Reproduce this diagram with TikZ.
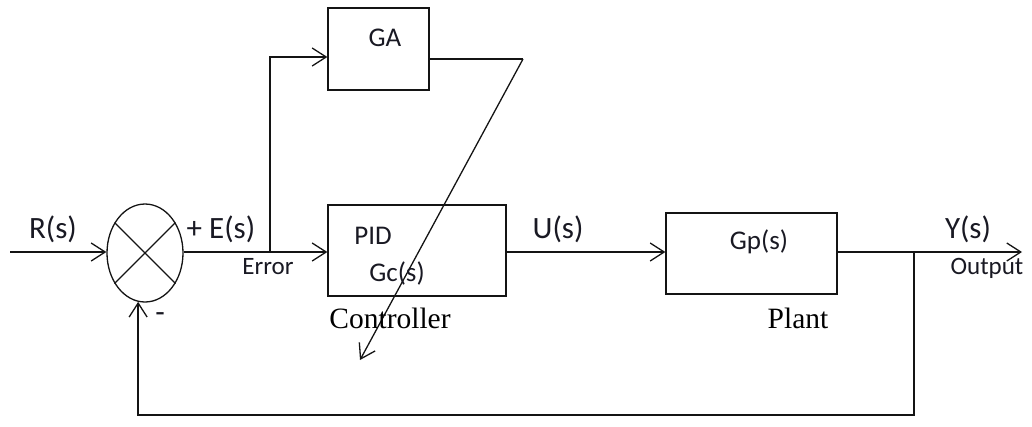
\documentclass[tikz,border=0pt]{standalone}
\usepackage{fontspec}
\setmainfont{Carlito}
\newfontfamily\tnrfont{Liberation Serif}
\usepackage{tikz}
\usetikzlibrary{arrows.meta,positioning,calc,shapes.geometric}
\definecolor{cdedge}{RGB}{20,20,20}
\definecolor{cdink}{RGB}{25,25,35}
\tikzset{
  blk/.style={
    draw=cdedge, line width=1.3pt, inner sep=0pt
  },
  sumj/.style={
    ellipse, draw=cdedge, line width=1.3pt, inner sep=0pt,
    minimum width=76pt, minimum height=98pt
  },
  arr/.style={-{Straight Barb[length=14pt,width=18pt,line width=1.3pt]}, draw=cdedge, line width=1.3pt},
  ln/.style={draw=cdedge, line width=1.3pt},
  sig/.style={font=\fontsize{31}{33}\selectfont, text=cdink, inner sep=0pt},
  inbox/.style={font=\fontsize{27}{29}\selectfont, text=cdink, inner sep=0pt},
  small/.style={font=\fontsize{25}{27}\selectfont, text=cdink, inner sep=0pt},
  caplbl/.style={font=\tnrfont\fontsize{29.5}{31}\selectfont, text=black, inner sep=0pt}
}

\begin{document}
\begin{tikzpicture}[x=1pt,y=-1pt]
  \useasboundingbox (0,0) rectangle (1032,426);
  % blocks
  \node[sumj] (sum) at (145,253) {};
  \node[blk, minimum width=101pt, minimum height=82pt] (ga) at (378.5,49) {};
  \node[blk, minimum width=178pt, minimum height=91pt] (pid) at (417,250.5) {};
  \node[blk, minimum width=171pt, minimum height=81pt] (gp) at (751.5,253.5) {};
  \draw[ln] (sum.45) -- (sum.225);
  \draw[ln] (sum.135) -- (sum.315);
  % points on the wires
  \coordinate (rin) at (10,252);
  \coordinate (br) at (270,57);
  \coordinate (kink) at (523,59);
  \coordinate (tip) at (360,360);
  \coordinate (tap) at (914,252);
  \coordinate (yout) at (1022,252);
  \coordinate (fb) at (914,415);
  % wires
  \draw[arr] (rin) -- (rin -| sum.west);
  \draw[arr] (sum.east |- rin) -- (rin -| pid.west);
  \draw[arr] (rin -| br) -- (br) -- (br -| ga.west);
  \draw[ln] (ga.east |- kink) -- (kink);
  \draw[arr] (kink) -- (tip);
  \draw[arr] (rin -| pid.east) -- (rin -| gp.west);
  \draw[arr] (rin -| gp.east) -- (yout);
  \draw[arr] (tap) -- (fb) -| (sum.262);
  % labels
  \node[sig] (lr) at (53,229) {R(s)};
  \node[sig] (le) at (221,229) {+ E(s)};
  \node[small] (lerr) at (268,267) {Error};
  \node[sig] (lu) at (558,229) {U(s)};
  \node[sig] (ly) at (968,229) {Y(s)};
  \node[small] (lout) at (987,268) {Output};
  \node[inbox] (lga) at (385,38) {GA};
  \node[inbox] (lpid) at (373,236) {PID};
  \node[inbox] (lgc) at (397,273) {Gc(s)};
  \node[inbox] (lgp) at (759,242) {Gp(s)};
  \node[caplbl] (lctl) at (390,318) {Controller};
  \node[caplbl] (lpl) at (798,318) {Plant};
  \node[sig] (lmin) at (160,318) {-};
\end{tikzpicture}
\end{document}
